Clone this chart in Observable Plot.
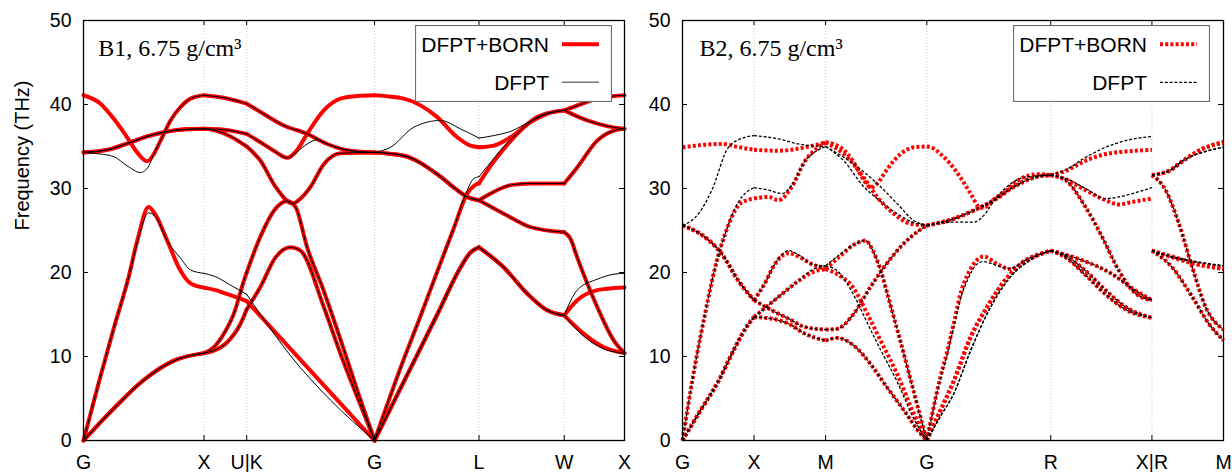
<!DOCTYPE html>
<html>
<head>
<meta charset="utf-8">
<script src="https://cdn.jsdelivr.net/npm/d3@7"></script>
<script src="https://cdn.jsdelivr.net/npm/@observablehq/plot@0.6"></script>
<style>
  html, body { margin: 0; padding: 0; background: #fff; }
  #wrap { position: relative; width: 1232px; height: 472px; overflow: hidden; background: #fff; }
  #wrap > .pane { position: absolute; top: 0; }
  .legend { position: absolute; }
  .legend text { font-family: "Liberation Sans", Arial, sans-serif; font-size: 21px; fill: #000; }
</style>
</head>
<body>
<div id="wrap"></div>
<script>
// ---------------- data ----------------
const yTicks = [0, 10, 20, 30, 40, 50];

// B1 (rock salt) path: G X U|K G L W X  (k in 2pi/a)
const b1Ticks = [0, 1, 1.3536, 2.4142, 3.2802, 3.9873, 4.4873];
const b1Labels = ["G", "X", "U|K", "G", "L", "W", "X"];

// rows: [k, DFPT+BORN, DFPT]  (third value omitted = same; null = no point)
const b1TA1 = [
  [0, 0], [0.25, 3.8], [0.5, 7.2], [0.75, 9.5], [1.0, 10.4],
  [1.081, 11.1], [1.164, 12.7], [1.247, 15.1], [1.330, 19.0], [1.3536, 20.0],
  [1.468, 24.3], [1.593, 27.6], [1.690, 28.5], [1.758, 27.8], [1.855, 23.0], [1.993, 17.8], [2.132, 12.0], [2.270, 6.0], [2.4142, 0],
  [2.657, 7.0], [2.934, 15.0], [3.127, 20.6], [3.210, 22.4], [3.2802, 23.0],
  [3.486, 20.6], [3.680, 17.5], [3.846, 15.5], [3.9873, 14.9],
  [4.095, 16.7, 17.9], [4.261, 17.9, 19.2], [4.40, 18.15, 19.8], [4.4873, 18.2, 19.9]
];
const b1TA2 = [
  [0, 0], [0.25, 3.8], [0.5, 7.2], [0.75, 9.5], [1.0, 10.4],
  [1.081, 10.7], [1.192, 11.7], [1.302, 13.9], [1.3536, 15.6],
  [1.468, 18.3], [1.593, 21.8], [1.717, 23.0], [1.800, 22.6], [1.993, 15.9], [2.132, 10.3], [2.270, 5.2], [2.4142, 0],
  [2.657, 7.0], [2.934, 15.0], [3.127, 20.6], [3.210, 22.4], [3.2802, 23.0],
  [3.486, 20.6], [3.680, 17.5], [3.846, 15.5], [3.9873, 14.9],
  [4.150, 12.7, 12.4], [4.316, 11.1, 10.9], [4.4873, 10.4]
];
const b1LA = [
  [0, 0], [0.125, 6.8], [0.25, 13.3], [0.375, 19.5], [0.45, 24.0, 23.8], [0.54, 27.8, 27.1], [0.60, 26.8, 26.6], [0.694, 23.8], [0.805, 20.2, 21.7], [0.888, 18.7, 20.3], [1.0, 18.2, 19.9],
  [1.095, 17.9, 19.5], [1.219, 17.3, 18.5], [1.3536, 16.6, 17.4],
  [1.468, 14.8, 15.0], [1.717, 10.9, 10.1], [2.049, 5.7, 4.8], [2.4142, 0],
  [2.657, 9.7], [2.795, 14.8], [2.934, 20.1], [3.072, 25.3], [3.183, 29.4, 29.8], [3.238, 30.3, 31.2], [3.2802, 30.6, 31.4],
  [3.348, 32.1, 32.6], [3.486, 34.7, 35.0], [3.625, 36.9], [3.763, 38.5], [3.929, 39.2], [3.9873, 39.3],
  [4.12, 40.0], [4.261, 40.7], [4.4873, 41.1]
];
const b1TO1 = [
  [0, 34.3], [0.197, 34.6], [0.39, 35.5], [0.528, 36.2], [0.666, 36.7], [0.805, 37.0], [1.0, 37.1],
  [1.095, 36.9], [1.219, 36.2], [1.3536, 35.0],
  [1.468, 33.3], [1.593, 30.2], [1.735, 28.2], [1.80, 28.8], [1.883, 30.2], [1.993, 32.9], [2.132, 34.2], [2.4142, 34.3],
  [2.657, 33.9], [2.934, 31.7], [3.100, 29.8], [3.183, 29.0], [3.2802, 28.6],
  [3.486, 27.0], [3.708, 25.4], [3.9873, 24.8],
  [4.04, 24.0], [4.095, 21.8], [4.261, 15.9], [4.399, 11.9], [4.4873, 10.4]
];
const b1TO2 = [
  [0, 34.3], [0.197, 34.6], [0.39, 35.5], [0.528, 36.2], [0.666, 36.7], [0.805, 37.0], [1.0, 37.1],
  [1.164, 37.0], [1.3536, 36.5],
  [1.468, 35.5], [1.578, 34.5], [1.690, 33.65], [1.773, 34.6, 34.4], [1.855, 36.5, 35.3], [1.938, null, 35.8], [1.993, 39.3, null], [2.021, null, 35.3], [2.132, 40.7, null], [2.215, null, 34.5], [2.27, 41.0, null], [2.4142, 41.1, 34.3],
  [2.546, null, 34.9], [2.657, 40.7, null], [2.740, null, 37.3], [2.934, 38.5, null], [2.961, null, 38.1], [3.100, 36.1, null], [3.127, null, 37.1], [3.210, 35.1, null], [3.2802, 34.9, 36.0],
  [3.403, 35.1, 36.3], [3.542, 36.1, 36.8], [3.708, 37.9, 38.0], [3.846, 38.9], [3.9873, 39.3],
  [4.178, 38.1], [4.35, 37.4], [4.4873, 37.1]
];
const b1TO3 = [
  [0, 41.1, 34.3], [0.141, 40.1, 34.1], [0.251, 38.3, 33.8], [0.362, 36.1, 32.7], [0.445, 34.3, null], [0.473, null, 31.9], [0.528, 33.25, null], [0.542, null, 32.7], [0.583, 34.1], [0.639, 35.7], [0.722, 38.1], [0.805, 39.7], [0.888, 40.7], [1.0, 41.1],
  [1.164, 40.8], [1.3536, 40.1],
  [1.468, 39.1], [1.661, 37.5], [1.855, 36.5], [2.021, 35.3], [2.215, 34.5], [2.4142, 34.3],
  [2.657, 33.9], [2.934, 31.7], [3.100, 29.8], [3.183, 29.0], [3.2802, 28.6],
  [3.376, 29.4], [3.542, 30.4], [3.708, 30.6], [3.9873, 30.6],
  [4.095, 32.5], [4.261, 35.7], [4.40, 36.9], [4.4873, 37.1]
];

// B2 (CsCl) path: G X M G R X|R M
const b2Ticks = [0, 0.5, 1.0, 1.7071, 2.5731, 3.2802, 3.7802];
const b2Labels = ["G", "X", "M", "G", "R", "X|R", "M"];

const b2TA1 = [
  [0, 0], [0.112, 3.2], [0.252, 7.1], [0.368, 11.1], [0.45, 13.6], [0.5, 14.7],
  [0.55, 15.4], [0.671, 17.1], [0.811, 19.0], [0.904, 20.0, 20.3], [1.0, 20.4, 20.8],
  [1.104, 22.0, 22.2], [1.197, 23.3], [1.279, 23.8], [1.33, 22.6], [1.38, 20.5], [1.45, 16.3], [1.52, 12.0], [1.59, 7.5], [1.65, 3.6], [1.7071, 0],
  [1.80, 3.5, 2.8], [1.896, 7.1, 5.6], [2.013, 12.3, 10.7], [2.129, 15.9, 15.1], [2.269, 19.4, 19.0], [2.409, 21.4, 21.3], [2.5731, 22.6],
  [2.676, 22.0], [2.816, 20.2], [2.956, 17.9], [3.096, 15.9], [3.2802, 14.6],
  [3.2802, 22.6], [3.422, 21.8], [3.562, 21.1, 21.3], [3.7802, 20.4, 20.8]
];
const b2TA2 = [
  [0, 0], [0.112, 3.2], [0.252, 7.1], [0.368, 11.1], [0.45, 13.6], [0.5, 14.7],
  [0.624, 14.5], [0.741, 13.9], [0.857, 12.7], [1.0, 11.9],
  [1.081, 12.2], [1.197, 11.3], [1.314, 9.1], [1.430, 6.3], [1.547, 3.6], [1.663, 0.8], [1.7071, 0],
  [1.80, 3.5, 2.8], [1.896, 7.1, 5.6], [2.013, 12.3, 10.7], [2.129, 15.9, 15.1], [2.269, 19.4, 19.0], [2.409, 21.4, 21.3], [2.5731, 22.6],
  [2.676, 21.8], [2.816, 19.7], [2.956, 17.4], [3.096, 15.6], [3.2802, 14.6],
  [3.2802, 22.6], [3.422, 20.6], [3.562, 17.1], [3.678, 13.9], [3.7802, 11.9]
];
const b2LA = [
  [0, 0], [0.089, 9.1], [0.158, 15.1], [0.228, 20.6], [0.298, 24.6], [0.391, 28.0, 28.4], [0.45, 28.6, 29.6], [0.5, 28.8, 30.1],
  [0.601, 29.0, 29.8], [0.671, 28.6, null], [0.694, null, 29.4], [0.764, 30.2, 30.4], [0.857, 33.3], [0.950, 34.9, 34.6], [1.0, 35.5, 35.0],
  [1.127, 34.1, 33.3], [1.267, 31.3, 30.2], [1.360, 29.0, 28.8], [1.477, 27.0, null], [1.500, null, 27.0], [1.593, 25.8, null], [1.663, null, 25.7], [1.7071, 25.6],
  [1.896, 26.4], [2.036, 27.4], [2.175, 28.6], [2.315, 30.2], [2.455, 31.3], [2.5731, 31.6],
  [2.676, 32.1, 32.2], [2.816, 33.3, 33.7], [2.956, 34.1, 34.9], [3.096, 34.4, 35.7], [3.2802, 34.6, 36.2],
  [3.2802, 31.6], [3.399, 32.1], [3.515, 33.5], [3.632, 34.7, 34.3], [3.7802, 35.5, 34.9]
];
const b2TO1 = [
  [0, 25.6], [0.158, 24.2], [0.275, 22.2], [0.391, 19.0], [0.5, 16.7],
  [0.575, 18.7], [0.645, 21.0], [0.741, 22.3, 22.6], [0.811, 21.9, 22.1], [0.904, 21.0], [1.0, 20.4, 20.8],
  [1.081, 19.8, 20.2], [1.197, 18.1, 17.3], [1.291, 15.1, 14.0], [1.384, 11.9, 10.8], [1.500, 7.9, 7.0], [1.616, 3.2, 2.6], [1.7071, 0],
  [1.803, 7.6, 7.4], [1.85, 10.6, 10.3], [1.896, 14.0, 13.6], [1.95, 17.9, 17.3], [1.989, 19.6, 19.0], [2.059, 21.5, 21.0], [2.106, 21.9, 21.3], [2.199, 21.0, 20.8], [2.292, 20.4, 20.5], [2.409, 21.6], [2.5731, 22.6],
  [2.770, 21.6], [3.003, 19.8], [3.143, 18.1], [3.2802, 16.7],
  [3.2802, 22.6], [3.422, 21.9], [3.562, 21.2, 21.4], [3.7802, 20.5, 20.8]
];
const b2TO2 = [
  [0, 25.6], [0.158, 24.2], [0.275, 22.2], [0.391, 19.0], [0.5, 16.7],
  [0.624, 15.5], [0.741, 14.5], [0.857, 13.5], [1.0, 13.2],
  [1.081, 13.3], [1.197, 15.1], [1.314, 18.3], [1.407, 20.6], [1.500, 22.6], [1.593, 24.2], [1.7071, 25.6],
  [1.896, 26.4], [2.036, 27.4], [2.175, 28.6], [2.315, 30.2], [2.455, 31.3], [2.5731, 31.6],
  [2.676, 31.0], [2.816, 27.8], [2.933, 24.2], [3.050, 20.2], [3.166, 17.5], [3.2802, 16.7],
  [3.2802, 31.6], [3.376, 29.8], [3.469, 25.8], [3.562, 20.6], [3.655, 15.9], [3.7802, 13.2]
];
const b2LO = [
  [0, 34.9, 25.6], [0.112, null, 27.0], [0.15, 35.2, null], [0.205, null, 29.8], [0.275, 35.3, null], [0.321, null, 34.9], [0.40, 34.9, null], [0.438, null, 36.1], [0.5, 34.6, 36.3],
  [0.671, 34.5, 35.9], [0.811, null, 35.3], [0.857, 34.9, null], [1.0, 35.5, 35.0],
  [1.104, 34.9, null], [1.197, 33.1, 32.9], [1.267, 31.0, null], [1.314, 30.1, null], [1.360, 30.6, 30.6], [1.430, 32.3, null], [1.500, null, 28.2], [1.523, 34.1, null], [1.616, 34.9, 26.2], [1.7071, 35.0, 25.6],
  [1.75, 34.8, null], [1.803, 34.1, null], [1.873, 32.9, null], [1.896, null, 26.0], [1.943, 31.3, null], [2.013, 29.4, null], [2.036, null, 26.0], [2.083, 27.7, null], [2.106, null, 26.8], [2.13, 27.9, null], [2.175, 28.7, null], [2.187, null, 28.8], [2.245, 29.5, null], [2.296, null, 30.6], [2.315, 30.6, null], [2.409, 31.5, 31.4], [2.5, 31.7, null], [2.5731, 31.6],
  [2.676, 31.1, 31.2], [2.816, 29.8, 30.0], [2.956, 28.6, 28.8], [3.050, 28.1, 29.0], [3.143, 28.4, 29.4], [3.2802, 28.8, 30.1],
  [3.2802, 31.6], [3.399, 32.1], [3.515, 33.5], [3.632, 34.7, 34.3], [3.7802, 35.5, 34.9]
];

const seriesNames = ["DFPT+BORN", "DFPT"];

// ---------------- helpers ----------------
function segments(rows, ticks, col, band) {
  const out = [];
  const interior = ticks.slice(1, -1);
  let seg = [], id = 0, prevK = null;
  const flush = () => {
    if (seg.length > 1) seg.forEach(p => out.push({k: p[0], f: p[1], z: band + "-" + col + "-" + id}));
    id++; seg = [];
  };
  for (const r of rows) {
    const k = r[0];
    const v = col === 1 ? r[1] : (r.length > 2 ? r[2] : r[1]);
    if (prevK !== null && Math.abs(k - prevK) < 1e-9) flush();
    prevK = k;
    if (v === null || v === undefined) continue;
    seg.push([k, v]);
    if (interior.some(t => Math.abs(t - k) < 1e-9)) { flush(); seg.push([k, v]); }
  }
  flush();
  return out;
}

function panel(o) {
  const born = o.bands.flatMap(([n, rows]) => segments(rows, o.ticks, 1, n));
  const dfpt = o.bands.flatMap(([n, rows]) => segments(rows, o.ticks, 2, n));
  const k0 = o.ticks[0], k1 = o.ticks[o.ticks.length - 1];
  const pw = o.width - o.marginLeft - o.marginRight;
  const tk = (k1 - k0) * 5 / pw;
  const ty = 50 * 5 / 420;
  const bornStyle = o.dashed ? {strokeDasharray: "3,2.2", strokeLinecap: "butt", strokeLinejoin: "miter"} : {};
  const dfptStyle = o.dashed ? {strokeDasharray: "3,1.8", strokeWidth: 1.3, strokeLinecap: "butt"} : {strokeWidth: 1};
  const marks = [
    Plot.ruleX(o.ticks.slice(1, -1), {x: d => d, y1: 0, y2: 50, stroke: "#c4c4c4", strokeDasharray: "1,2", strokeWidth: 0.9}),
    Plot.line(born, {x: "k", y: "f", z: "z", stroke: "#ff0000", strokeWidth: 4, curve: "monotone-x", ...bornStyle}),
    Plot.line(dfpt, {x: "k", y: "f", z: "z", stroke: "#000000", curve: "monotone-x", ...dfptStyle}),
    Plot.frame({stroke: "#000", strokeWidth: 1.3}),
    Plot.ruleY(yTicks.slice(1, -1), {y: d => d, x1: k0, x2: k0 + tk, stroke: "#000"}),
    Plot.ruleY(yTicks.slice(1, -1), {y: d => d, x1: k1 - tk, x2: k1, stroke: "#000"}),
    Plot.ruleX(o.ticks.slice(1, -1), {x: d => d, y1: 0, y2: ty, stroke: "#000"}),
    Plot.ruleX(o.ticks.slice(1, -1), {x: d => d, y1: 50 - ty, y2: 50, stroke: "#000"}),
    Plot.text(yTicks, {x: k0, y: d => d, text: d => String(d), dx: -12, textAnchor: "end", fontSize: 19.5, fill: "#000"}),
    Plot.text(o.ticks, {x: d => d, y: 0, text: (d, i) => o.labels[i], dy: 22, fontSize: 19.5, fill: "#000"}),
    Plot.text([o.title], {frameAnchor: "top-left", dx: o.titleDx, dy: 35.7, lineAnchor: "bottom", textAnchor: "start", fontFamily: "Liberation Serif, Times New Roman, serif", fontSize: 24, fill: "#000"})
  ];
  if (o.yLabel) {
    marks.push(Plot.text([o.yLabel], {frameAnchor: "left", dx: -61, rotate: -90, fontSize: 20, fill: "#000"}));
  }
  return Plot.plot({
    width: o.width, height: 472,
    marginLeft: o.marginLeft, marginRight: o.marginRight, marginTop: 20, marginBottom: 32,
    x: {domain: [k0, k1], axis: null},
    y: {domain: [0, 50], axis: null},
    style: {background: "transparent", overflow: "visible", fontFamily: "Liberation Sans, Arial, sans-serif"},
    marks
  });
}

function legend(left, dashed) {
  const ns = "http://www.w3.org/2000/svg";
  const div = document.createElement("div");
  div.className = "legend";
  div.style.left = left + "px";
  div.style.top = "25px";
  const w = 197, h = 77;
  div.innerHTML =
    `<svg xmlns="${ns}" width="${w}" height="${h}">
      <rect x="0.5" y="0.5" width="${w - 1}" height="${h - 1}" fill="#fff" stroke="#6e6e6e" stroke-width="1.2"/>
      <text x="134" y="26.7" text-anchor="end">${seriesNames[0]}</text>
      <line x1="147" x2="184" y1="19.3" y2="19.3" stroke="#ff0000" stroke-width="4" ${dashed ? 'stroke-dasharray="3,2.2"' : ""}/>
      <text x="134" y="65" text-anchor="end">${seriesNames[1]}</text>
      <line x1="147" x2="184" y1="57.3" y2="57.3" stroke="${dashed ? "#000" : "#777"}" stroke-width="${dashed ? 1.3 : 1.5}" ${dashed ? 'stroke-dasharray="3,1.8"' : ""}/>
    </svg>`;
  return div;
}

const wrap = document.getElementById("wrap");

const p1 = panel({
  bands: [["TA1", b1TA1], ["TA2", b1TA2], ["LA", b1LA], ["TO1", b1TO1], ["TO2", b1TO2], ["TO3", b1TO3]],
  ticks: b1Ticks, labels: b1Labels, title: "B1, 6.75 g/cm³", titleDx: 14.7,
  dashed: false, width: 630, marginLeft: 83, marginRight: 6, yLabel: "Frequency (THz)"
});
p1.classList.add("pane"); p1.style.left = "0px";
wrap.appendChild(p1);

const p2 = panel({
  bands: [["TA1", b2TA1], ["TA2", b2TA2], ["LA", b2LA], ["TO1", b2TO1], ["TO2", b2TO2], ["LO", b2LO]],
  ticks: b2Ticks, labels: b2Labels, title: "B2, 6.75 g/cm³", titleDx: 16.9,
  dashed: true, width: 602, marginLeft: 52, marginRight: 9, yLabel: null
});
p2.classList.add("pane"); p2.style.left = "630px";
wrap.appendChild(p2);

wrap.appendChild(legend(415, false));
wrap.appendChild(legend(1013, true));
</script>
</body>
</html>
